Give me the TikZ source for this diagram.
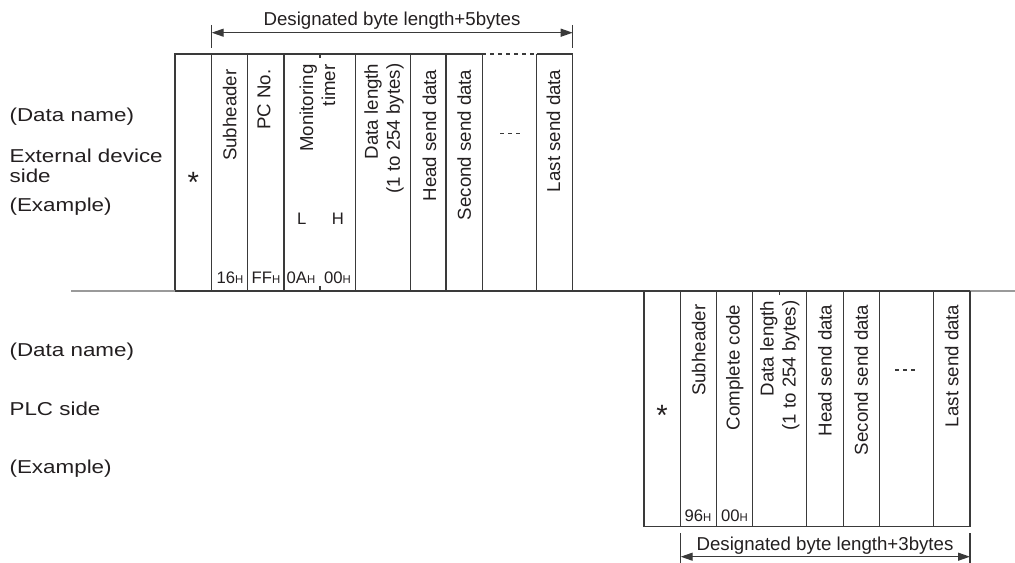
\documentclass[tikz,border=0pt]{standalone}
\usepackage{fontspec}
\setmainfont{Liberation Sans}
\usetikzlibrary{arrows.meta}
\definecolor{ink}{HTML}{231F20}
\definecolor{rule}{HTML}{3A3A3A}
\definecolor{faint}{HTML}{9A9A9A}
\newcommand\wide[1]{\scalebox{1.2}[1]{#1}}
\newcommand\hx{{\fontsize{8.5}{10}\selectfont H}}

\begin{document}
\begin{tikzpicture}[x=0.75pt,y=-0.75pt,line width=0.9pt,
  grid/.style={draw=rule},
  fld/.style={rotate=90,anchor=east,align=right,inner sep=0pt,font=\fontsize{14}{16.5}\selectfont,text=ink},
  side/.style={anchor=base west,inner sep=0pt,align=left,font=\fontsize{14}{15}\selectfont,text=ink},
  val/.style={anchor=base,inner sep=0pt,font=\fontsize{12.5}{14}\selectfont,text=ink},
  star/.style={anchor=base,inner sep=0pt,font=\fontsize{22}{22}\selectfont,text=ink},
  span/.style={{Triangle[length=9pt,width=6pt]}-{Triangle[length=9pt,width=6pt]},draw=rule},
  dots/.style={draw=rule,dash pattern=on 3pt off 3pt}]
\useasboundingbox (0,0) rectangle (1015,563);

\node[side] (ename) at (9,121.7) {\wide{(Data name)}};
\node[side] (eside) at (9,183) {\wide{External device}\\\wide{side}};
\node[side] (eex) at (9,211.7) {\wide{(Example)}};
\node[side] (pname) at (9,356.7) {\wide{(Data name)}};
\node[side] (pside) at (9,415) {\wide{PLC side}};
\node[side] (pex) at (9,473.3) {\wide{(Example)}};

\draw[grid] (482.3,54) -- (175,54) -- (175,291);
\draw[grid] (536.7,54) -- (572.7,54) -- (572.7,291);
\draw[dots] (482.3,54) -- (536.7,54);
\foreach \x in {211.7,247.7,284,355.7,410.7,446,482.3,536.7} \draw[grid] (\x,54) -- (\x,291);
\draw[grid] (320,54) -- (320,58) (320,286) -- (320,291);
\draw[dots] (500,133.3) -- (520,133.3);

\draw[faint] (71,291) -- (175,291);
\draw[grid] (175,291) -- (970,291);
\draw[faint] (970,291) -- (1015,291);

\node[star] (estar) at (193.3,193) {*};
\node[fld] (ehdr) at (229.7,69) {Subheader};
\node[fld] (epc) at (264,69) {PC No.};
\node[fld] (etimer) at (317.5,64) {Monitoring\\timer};
\node[fld] (elen) at (384,63) {Data length\\(1 to 254 bytes)};
\node[fld] (ehead) at (429.5,69) {Head send data};
\node[fld] (esecond) at (464.2,69) {Second send data};
\node[fld] (elast) at (553.5,69) {Last send data};
\node[val] (el) at (301.7,225) {L};
\node[val] (eh) at (338,225) {H};
\node[val] (e16) at (230,283.3) {16\hx};
\node[val] (eff) at (266,283.3) {FF\hx};
\node[val] (e0a) at (301,283.3) {0A\hx};
\node[val] (e00) at (337.5,283.3) {00\hx};

\coordinate (etl) at (211.7,32.7);
\coordinate (etr) at (572.7,32.7);
\draw[grid] (211.7,25) -- (211.7,48) (572.7,25) -- (572.7,48);
\draw[span] (etl) -- (etr);
\node[val,font=\fontsize{14}{16}\selectfont] (elabel) at (392,26) {Designated byte length+5bytes};

\draw[grid] (644,291) -- (644,526.7) -- (970,526.7) -- (970,291);
\foreach \x in {680.7,716.7,752.7,806.7,843.3,879.3,933.3} \draw[grid] (\x,291) -- (\x,526.7);
\draw[grid] (779.7,291) -- (779.7,295);
\draw[dots] (895,370) -- (916.7,370);

\node[star] (pstar) at (662,425) {*};
\node[fld] (phdr) at (698.7,304) {Subheader};
\node[fld] (pcode) at (734.7,304) {Complete code};
\node[fld] (plen) at (779.7,300) {Data length\\(1 to 254 bytes)};
\node[fld] (phead) at (825,304) {Head send data};
\node[fld] (psecond) at (861.3,304) {Second send data};
\node[fld] (plast) at (951.7,304) {Last send data};
\node[val] (p96) at (698,521.7) {96\hx};
\node[val] (p00) at (734.5,521.7) {00\hx};

\coordinate (pbl) at (680.7,556.7);
\coordinate (pbr) at (970,556.7);
\draw[grid] (680.7,533) -- (680.7,563) (970,533) -- (970,563);
\draw[span] (pbl) -- (pbr);
\node[val,font=\fontsize{14}{16}\selectfont] (plabel) at (825,550.7) {Designated byte length+3bytes};
\end{tikzpicture}
\end{document}
